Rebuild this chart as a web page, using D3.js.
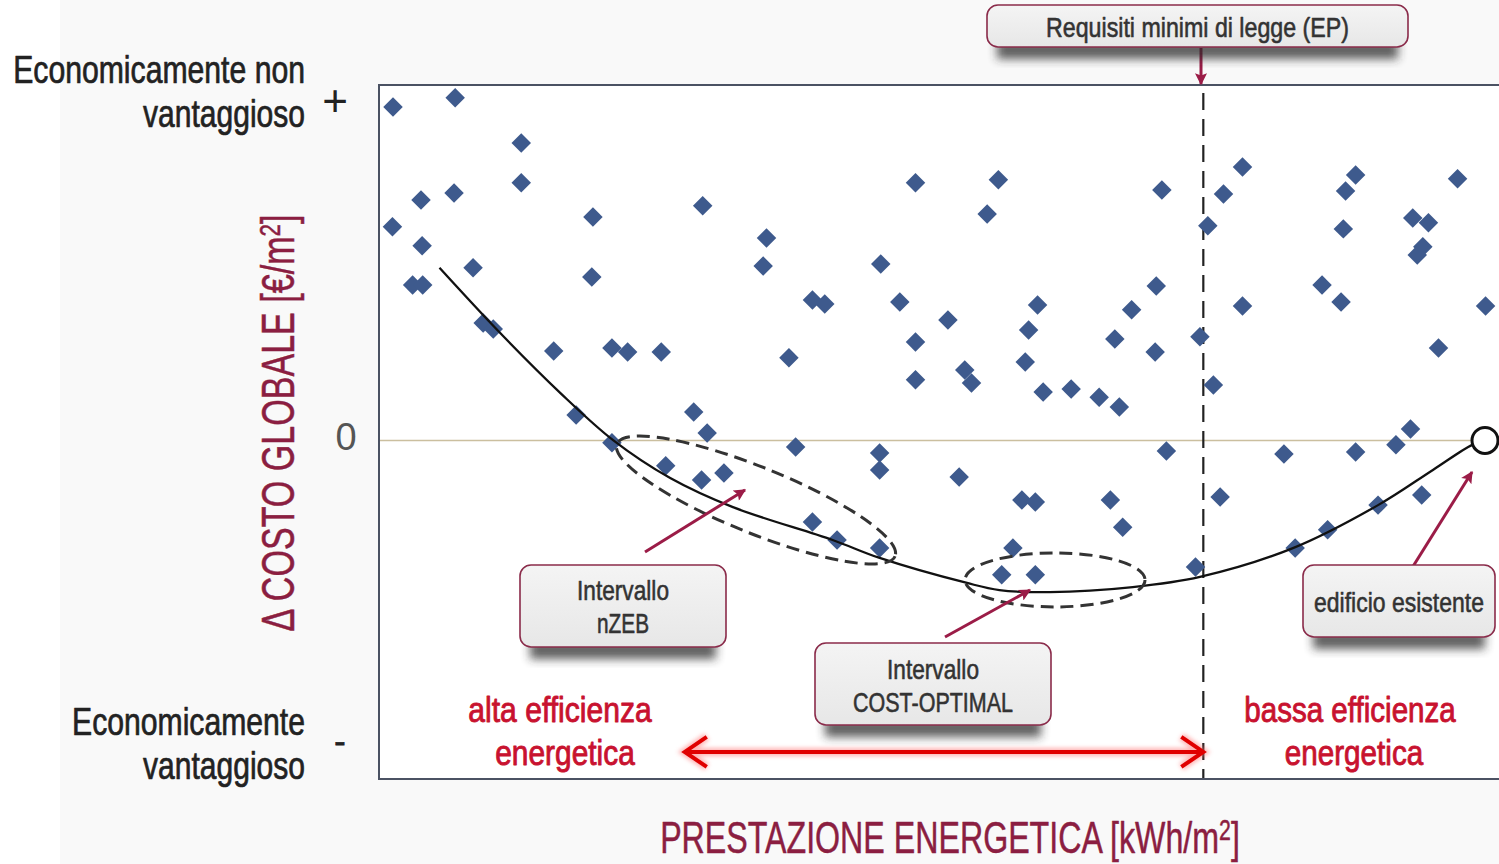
<!DOCTYPE html>
<html><head><meta charset="utf-8">
<script src="https://cdn.jsdelivr.net/npm/d3@7"></script>
<style>body{margin:0;background:#fafafa;} svg{display:block}</style>
</head><body>
<svg id="c" width="1499" height="864"></svg>
<script>
// ---------- data ----------
const pointsX = [1.25,6.8,3.75,6.7,1.2,3.85,3.0,3.9,8.4,9.3,
  10.2,12.7,12.7,15.6,19.1,19.0,17.6,20.8,20.8,22.2,
  25.2,25.6,28.1,29.3,28.8,30.8,28.9,34.6,34.3,36.6,
  37.2,38.7,40.9,38.7,39.8,44.8,44.7,44.7,44.7,47.9,
  46.5,47.9,47.9,50.8,52.3,52.9,51.8,54.3,55.3,57.7,
  58.0,58.8,59.3,61.8,64.3,66.1,65.7,67.2,69.3,69.4,
  69.9,70.3,65.3,66.4,57.4,58.6,56.6,55.6,58.6,72.9,
  73.3,74.0,74.5,75.1,75.4,77.1,77.1,80.8,81.8,84.7,
  84.2,85.9,86.1,86.3,87.2,87.2,89.2,90.8,92.1,92.3,
  93.7,93.2,92.7,94.6,93.1,96.3,98.8];
const pointsY = [98.5,101.2,71.0,73.1,63.1,57.5,45.9,45.9,51.0,34.7,
  32.9,87.9,76.1,26.4,66.0,48.3,7.5,-0.7,27.3,26.1,
  26.1,-7.5,8.4,2.2,-11.7,-9.6,69.3,59.8,51.5,24.4,
  -1.9,-24.1,-29.4,41.5,40.3,52.1,-3.7,-8.7,-31.8,76.1,
  40.9,29.1,17.9,35.6,20.8,17.0,-10.8,66.9,77.0,23.2,
  32.6,40.0,14.3,15.2,12.8,9.9,30.0,38.6,26.1,45.6,
  74.0,-3.1,-17.6,-25.6,-17.6,-18.2,-31.8,-39.7,-39.7,-37.4,
  30.6,63.4,16.4,-16.7,72.8,80.8,39.7,-4.0,-31.8,-26.4,
  45.9,40.9,62.5,73.7,78.4,-3.4,-19.1,-1.3,3.4,65.7,
  64.3,57.2,54.8,27.3,-16.1,77.3,39.7];
const curveX = [5.4,10.8,16.2,20.9,26.0,31.6,40.5,44.7,52.5,55.4,59.9,67.3,73.3,81.6,89.2,94.1,97.6,98.75];
const curveY = [51.0,31.8,14.0,0.1,-11.1,-19.7,-29.4,-34.7,-42.1,-44.2,-44.8,-43.3,-40.3,-31.8,-19.1,-8.7,-1.3,0];
const existingX = 98.75, existingY = 0;
const legalLimitX = 73.6;
const yTickValues = [100, 0, -89];
const yTickLabels = ["+", "0", "-"];
const nzebRange = {cx: 33.66, cy: -17.6};
const costOptRange = {cx: 60.36, cy: -41.2};
const efficiencyArrow = {x0: 27.3, x1: 73.6, y: -92};

// ---------- setup ----------
const FONT = "'Liberation Sans Narrow','Liberation Sans',Arial,sans-serif";
const svg = d3.select("#c");
const x = d3.scaleLinear().domain([0, 100]).range([379, 1499]);
const y = d3.scaleLinear().domain([-100, 105]).range([779, 85]);

const defs = svg.append("defs");
defs.append("filter").attr("id","blur").attr("x","-20%").attr("y","-50%").attr("width","140%").attr("height","200%")
  .append("feGaussianBlur").attr("stdDeviation", 5);
defs.append("filter").attr("id","glow").attr("x","-5%").attr("y","-50%").attr("width","110%").attr("height","200%")
  .append("feGaussianBlur").attr("stdDeviation", 2);
const grad = defs.append("linearGradient").attr("id","boxg").attr("x1",0).attr("y1",0).attr("x2",0).attr("y2",1);
grad.append("stop").attr("offset","0%").attr("stop-color","#f4f4f4");
grad.append("stop").attr("offset","100%").attr("stop-color","#e7e7e7");
defs.append("marker").attr("id","mhead").attr("viewBox","0 0 10 10").attr("refX",9).attr("refY",5)
  .attr("markerWidth",14).attr("markerHeight",12).attr("markerUnits","userSpaceOnUse").attr("orient","auto")
  .append("path").attr("d","M0,0 L10,5 L0,10 L2,5 Z").attr("fill","#9b1c47");

// backgrounds
svg.append("rect").attr("width",1499).attr("height",864).attr("fill","#ffffff");
svg.append("rect").attr("x",60).attr("width",1439).attr("height",864).attr("fill","#f9f9f9");
svg.append("rect").attr("x",x(0)).attr("y",y(105)).attr("width",x(100)-x(0)).attr("height",y(-100)-y(105)).attr("fill","#ffffff");

// text helper: scales text horizontally to a target width
function fitText(parent, parts, o) {
  const fill = o.fill || "#222";
  const t = parent.append("text").attr("font-family", FONT).attr("font-size", o.size)
    .attr("fill", fill).attr("text-anchor", o.anchor || "middle")
    .attr("stroke", fill).attr("stroke-width", o.sw == null ? 0.7 : o.sw).attr("stroke-linejoin","round");
  let raised = false;
  parts.forEach(p => {
    const s = t.append("tspan").text(p.t);
    if (p.sup) { s.attr("font-size", o.size * 0.66).attr("dy", -o.size * 0.3); raised = true; }
    else if (raised) { s.attr("dy", o.size * 0.3); raised = false; }
  });
  const w = t.node().getBBox().width;
  const sx = o.width ? o.width / w : 1;
  t.attr("transform", `translate(${o.x},${o.y}) rotate(${o.rotate || 0}) scale(${sx},1)`);
  return t;
}

// zero line
svg.append("line").attr("x1",x(0)).attr("x2",x(100)).attr("y1",y(0)).attr("y2",y(0))
  .attr("stroke","#cbbf9f").attr("stroke-width",1.6);

// legal minimum dashed line
svg.append("line").attr("x1",x(legalLimitX)).attr("x2",x(legalLimitX)).attr("y1",y(105)+8).attr("y2",y(-100))
  .attr("stroke","#222").attr("stroke-width",2.2).attr("stroke-dasharray","17,9");

// diamonds
const pts = pointsX.map((v,i)=>[v, pointsY[i]]);
svg.append("g").selectAll("path").data(pts).join("path")
  .attr("d", d3.symbol().type(d3.symbolSquare).size(190))
  .attr("transform", d => `translate(${x(d[0])},${y(d[1])}) rotate(45)`)
  .attr("fill", "#3e5a8d");

// curve
const cpts = curveX.map((v,i)=>[v, curveY[i]]);
svg.append("path").datum(cpts)
  .attr("d", d3.line().x(d=>x(d[0])).y(d=>y(d[1])).curve(d3.curveCatmullRom))
  .attr("fill","none").attr("stroke","#111").attr("stroke-width",2.3);

// existing building circle
svg.append("circle").attr("cx",x(existingX)).attr("cy",y(existingY)).attr("r",13)
  .attr("fill","#fff").attr("stroke","#111").attr("stroke-width",3);

// dashed ellipses
svg.append("ellipse").attr("transform",`translate(${x(nzebRange.cx)},${y(nzebRange.cy)}) rotate(22)`)
  .attr("rx",150).attr("ry",33).attr("fill","none").attr("stroke","#333").attr("stroke-width",3).attr("stroke-dasharray","13,7");
svg.append("ellipse").attr("transform",`translate(${x(costOptRange.cx)},${y(costOptRange.cy)})`)
  .attr("rx",90).attr("ry",27).attr("fill","none").attr("stroke","#333").attr("stroke-width",3).attr("stroke-dasharray","13,7");

// frame
svg.append("path").attr("d",`M${x(100)},${y(105)} H${x(0)} V${y(-100)} H${x(100)}`)
  .attr("fill","none").attr("stroke","#4b5263").attr("stroke-width",2);

// y axis ticks (+, 0, -)
const ya = svg.append("g").attr("transform",`translate(${x(0)},0)`)
  .call(d3.axisLeft(y).tickValues(yTickValues).tickFormat((d,i)=>yTickLabels[i]).tickSize(0));
ya.select(".domain").remove();
ya.selectAll(".tick text").attr("font-family", FONT).attr("text-anchor","middle").attr("dy",null)
  .each(function(d,i){
    const s = d3.select(this);
    if (i===0) s.attr("x",-44).attr("y",14).attr("font-size",44).attr("fill","#222");
    if (i===1) s.attr("x",-33).attr("y",9).attr("font-size",38).attr("fill","#555");
    if (i===2) s.attr("x",-39).attr("y",11).attr("font-size",34).attr("fill","#222").attr("stroke","#222").attr("stroke-width",0.8);
  });

// left labels
fitText(svg,[{t:"Economicamente non"}],{x:305,y:83,size:38,anchor:"end",width:292});
fitText(svg,[{t:"vantaggioso"}],{x:305,y:127,size:38,anchor:"end",width:162});
fitText(svg,[{t:"Economicamente"}],{x:305,y:735,size:38,anchor:"end",width:233});
fitText(svg,[{t:"vantaggioso"}],{x:305,y:779,size:38,anchor:"end",width:162});

// axis titles
const MAROON = "#8b1e41";
fitText(svg,[{t:"Δ COSTO GLOBALE [€/m"},{t:"2",sup:true},{t:"]"}],{x:294,y:423,size:46,rotate:-90,width:417,fill:MAROON,sw:0.5});
fitText(svg,[{t:"PRESTAZIONE ENERGETICA [kWh/m"},{t:"2",sup:true},{t:"]"}],{x:950,y:853,size:44,width:580,fill:MAROON,sw:0.5});

// red labels
const RED = "#c8122f";
fitText(svg,[{t:"alta efficienza"}],{x:560,y:722,size:35,width:184,fill:RED,sw:0.9});
fitText(svg,[{t:"energetica"}],{x:565,y:765,size:35,width:140,fill:RED,sw:0.9});
fitText(svg,[{t:"bassa efficienza"}],{x:1350,y:722,size:35,width:212,fill:RED,sw:0.9});
fitText(svg,[{t:"energetica"}],{x:1354,y:765,size:35,width:139,fill:RED,sw:0.9});

// red double arrow
const ra = svg.append("g");
const ax0 = x(efficiencyArrow.x0), ax1 = x(efficiencyArrow.x1), ay = y(efficiencyArrow.y);
const arrowPath = `M${ax0},${ay} H${ax1} M${ax0+22},${ay-15} L${ax0},${ay} L${ax0+22},${ay+15} M${ax1-22},${ay-15} L${ax1},${ay} L${ax1-22},${ay+15}`;
ra.append("path").attr("d",arrowPath).attr("fill","none").attr("stroke","#ff6a6a").attr("stroke-width",8).attr("opacity",0.5).attr("filter","url(#glow)");
ra.append("path").attr("d",arrowPath).attr("fill","none").attr("stroke","#e00000").attr("stroke-width",4).attr("stroke-linejoin","miter");

// maroon pointer arrows
const pointers = [[645,552,745,490],[945,637,1030,590],[1412,568,1472,472],[1201,48,1201,84]];
svg.append("g").selectAll("line").data(pointers).join("line")
  .attr("x1",d=>d[0]).attr("y1",d=>d[1]).attr("x2",d=>d[2]).attr("y2",d=>d[3])
  .attr("stroke","#9b1c47").attr("stroke-width",3).attr("marker-end","url(#mhead)");

// callout boxes
function callout(bx, by, bw, bh, lines) {
  const g = svg.append("g");
  g.append("rect").attr("x",bx+10).attr("y",by+bh-6).attr("width",bw-20).attr("height",18)
    .attr("fill","#2a2a2a").attr("opacity",0.75).attr("filter","url(#blur)");
  g.append("rect").attr("x",bx).attr("y",by).attr("width",bw).attr("height",bh).attr("rx",11)
    .attr("fill","url(#boxg)").attr("stroke","#8a2b4a").attr("stroke-width",1.6);
  lines.forEach(l => fitText(g,[{t:l.t}],{x:bx+bw/2,y:l.y,size:28,width:l.w,fill:"#333",sw:0.6}));
}
callout(987,5,421,42,[{t:"Requisiti minimi di legge (EP)",y:37,w:303}]);
callout(520,565,206,82,[{t:"Intervallo",y:600,w:92},{t:"nZEB",y:633,w:52}]);
callout(815,643,236,82,[{t:"Intervallo",y:679,w:92},{t:"COST-OPTIMAL",y:712,w:160}]);
callout(1303,565,192,72,[{t:"edificio esistente",y:612,w:170}]);
</script>
</body></html>
